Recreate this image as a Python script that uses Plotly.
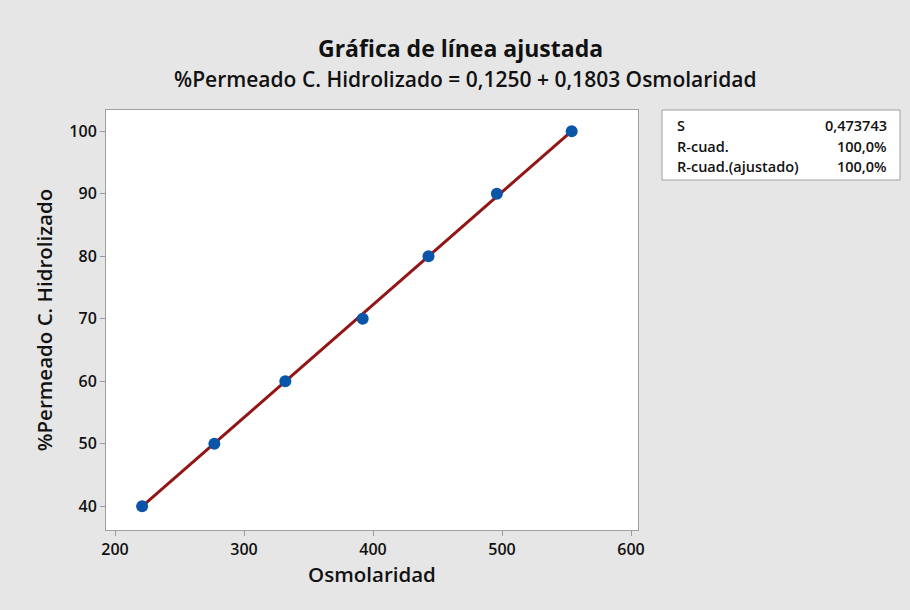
import plotly.graph_objects as go

osmolaridad = [221, 277, 332, 392, 443, 496, 554]
permeado = [40, 50, 60, 70, 80, 90, 100]
intercept = 0.1250
slope = 0.1803
x_ticks = [200, 300, 400, 500, 600]
y_ticks = [40, 50, 60, 70, 80, 90, 100]
stat_names = ["S", "R-cuad.", "R-cuad.(ajustado)"]
stat_values = ["0,473743", "100,0%", "100,0%"]

FONT = "Open Sans"

x_line = [min(osmolaridad), max(osmolaridad)]
n = 60
xs = [x_line[0] + (x_line[1] - x_line[0]) * i / n for i in range(n + 1)]
ys = [intercept + slope * v for v in xs]

fig = go.Figure()
fig.add_trace(go.Scatter(x=xs, y=ys, mode="lines",
                         line=dict(color="#921616", width=3), hoverinfo="skip"))
fig.add_trace(go.Scatter(x=osmolaridad, y=permeado, mode="markers",
                         marker=dict(color="#0a55a8", size=12)))

fig.update_layout(
    width=910, height=610,
    paper_bgcolor="#e6e6e6", plot_bgcolor="white",
    margin=dict(l=106, r=272, t=110, b=80),
    showlegend=False,
    font=dict(family=FONT, color="#111"),
)
fig.update_xaxes(range=[193, 605.4], tickvals=x_ticks, ticks="outside",
                 ticklen=5, tickcolor="#999", showgrid=False, zeroline=False,
                 showline=True, linecolor="#a0a0a0", linewidth=1, mirror=True,
                 tickfont=dict(size=16, family=FONT, color="#111", weight=600),
                 title=dict(text="Osmolaridad", font=dict(size=20.5, family=FONT, weight=600), standoff=8))
fig.update_yaxes(range=[36.2, 103.4], tickvals=y_ticks, ticks="outside",
                 ticklen=5, tickcolor="#999", showgrid=False, zeroline=False,
                 showline=True, linecolor="#a0a0a0", linewidth=1, mirror=True,
                 tickfont=dict(size=16, family=FONT, color="#111", weight=600),
                 title=dict(text="%Permeado C. Hidrolizado", font=dict(size=20.5, family=FONT, weight=600), standoff=11))

fig.add_annotation(text="Gráfica de línea ajustada", xref="paper", yref="paper",
                   x=(460 - 106) / 532, y=(530 - 48) / 420, showarrow=False,
                   font=dict(size=23, family=FONT, color="#111", weight=700), xanchor="center", yanchor="middle")
fig.add_annotation(text="%Permeado C. Hidrolizado = 0,1250 + 0,1803 Osmolaridad",
                   xref="paper", yref="paper",
                   x=(465 - 106) / 532, y=(530 - 79) / 420, showarrow=False,
                   font=dict(size=21, family=FONT, color="#111", weight=600), xanchor="center", yanchor="middle")

def px(xp):
    return (xp - 106) / 532

def py(yp):
    return (530 - yp) / 420

fig.add_shape(type="rect", xref="paper", yref="paper",
              x0=px(662), x1=px(900), y0=py(180), y1=py(110),
              fillcolor="white", line=dict(color="#a0a0a0", width=1))
rows_y = [125, 146, 166]
for name, val, yy in zip(stat_names, stat_values, rows_y):
    fig.add_annotation(text=name, xref="paper", yref="paper", x=px(675), y=py(yy),
                       xanchor="left", yanchor="middle", showarrow=False,
                       font=dict(size=14.5, family=FONT, color="#111", weight=600))
    fig.add_annotation(text=val, xref="paper", yref="paper", x=px(889), y=py(yy),
                       xanchor="right", yanchor="middle", showarrow=False,
                       font=dict(size=14.5, family=FONT, color="#111", weight=600))

fig.write_html("out.html")
